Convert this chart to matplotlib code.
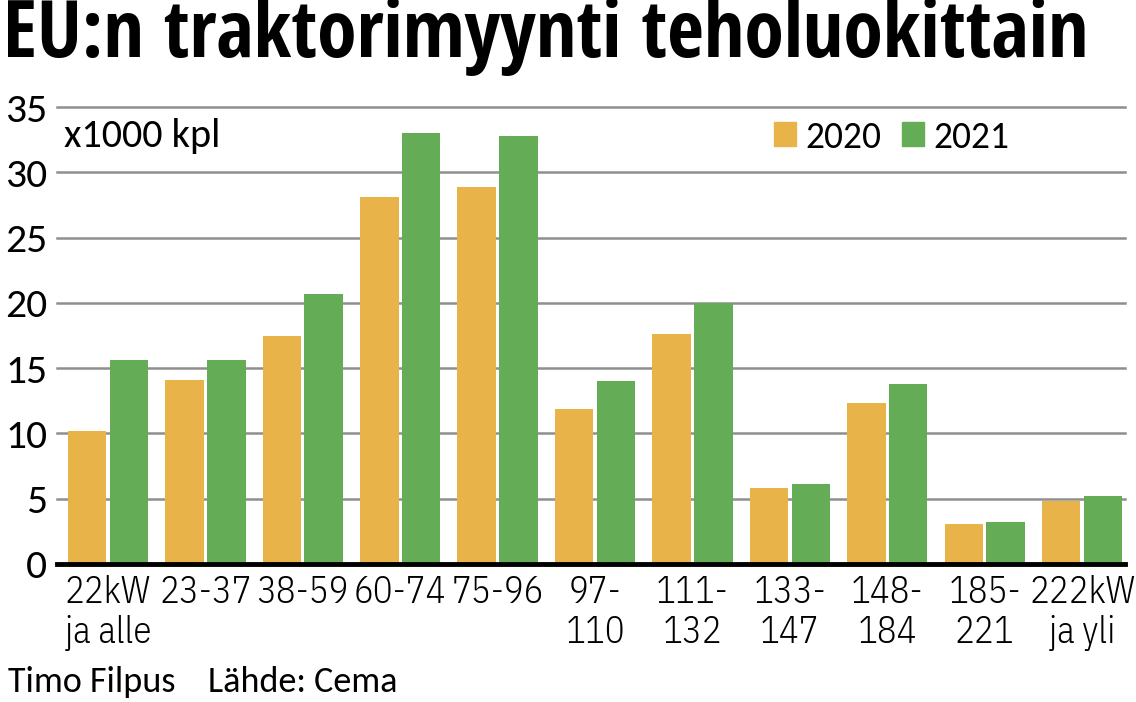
import matplotlib
matplotlib.use("Agg")
import matplotlib.pyplot as plt
import numpy as np
from matplotlib.patches import Patch
from matplotlib.font_manager import FontProperties

# data (x1000 units)
categories = ["22kW\nja alle", "23-37", "38-59", "60-74", "75-96", "97-\n110",
              "111-\n132", "133-\n147", "148-\n184", "185-\n221", "222kW\nja yli"]
sales_2020 = [10.2, 14.1, 17.5, 28.1, 28.9, 11.9, 17.6, 5.8, 12.3, 3.1, 4.8]
sales_2021 = [15.6, 15.6, 20.7, 33.0, 32.8, 14.0, 20.0, 6.1, 13.8, 3.2, 5.2]
yticks = [0, 5, 10, 15, 20, 25, 30, 35]

color_2020 = "#E8B44A"
color_2021 = "#64AD56"


def calib(size):
    return FontProperties(family=["Carlito", "Open Sans", "DejaVu Sans"], size=size)


def narrow(size):
    return FontProperties(family=["IBM Plex Sans Condensed", "DejaVu Sans"],
                          stretch="condensed", weight=300, size=size)


W, H = 1136, 702
fig = plt.figure(figsize=(W / 100, H / 100), dpi=100)
ax = fig.add_axes([57 / W, 1 - 564 / H, (1125 - 57) / W, (564 - 107) / H])

x = np.arange(len(categories))
bw = 0.395
off = 0.2146
ax.bar(x - off, sales_2020, width=bw, color=color_2020, zorder=3)
ax.bar(x + off, sales_2021, width=bw, color=color_2021, zorder=3)

ax.set_xlim(-0.523, 10.44)
ax.set_ylim(0, 35)

# horizontal gridlines
for y in yticks[1:]:
    ax.axhline(y, color="#8f8f8f", lw=1.8, zorder=1, clip_on=False)

for s in ["top", "right", "left"]:
    ax.spines[s].set_visible(False)
ax.spines["bottom"].set_linewidth(3.5)
ax.spines["bottom"].set_color("black")
ax.spines["bottom"].set_zorder(4)

ax.set_yticks(yticks)
ax.set_yticklabels([str(v) for v in yticks], fontproperties=calib(30))
ax.set_xticks(x)
ax.set_xticklabels(categories, fontproperties=narrow(26.5), linespacing=1.15)
ax.tick_params(axis="y", length=0, pad=7)
ax.tick_params(axis="x", length=0, pad=8)

# legend
handles = [Patch(color=color_2020, label="2020"), Patch(color=color_2021, label="2021")]
fig.legend(handles=handles, loc="center left", bbox_to_anchor=(774 / W, 1 - 137 / H),
           ncol=2, frameon=False, prop=calib(27), handlelength=0.59, handleheight=0.59,
           handletextpad=0.24, columnspacing=0.56, borderpad=0, borderaxespad=0)

fig.text(64 / W, 1 - 147 / H, "x1000 kpl", fontproperties=calib(29), va="baseline")

fig.text(3 / W, 1 - 57 / H, "EU:n traktorimyynti teholuokittain", va="baseline", ha="left",
         fontproperties=FontProperties(family=["Open Sans Condensed", "DejaVu Sans"],
                                       stretch="condensed", weight=700, size=57.5))

fig.text(8 / W, 1 - 692 / H, "Timo Filpus    Lähde: Cema", fontproperties=calib(26),
         va="baseline")

fig.savefig("out.png", dpi=100)
